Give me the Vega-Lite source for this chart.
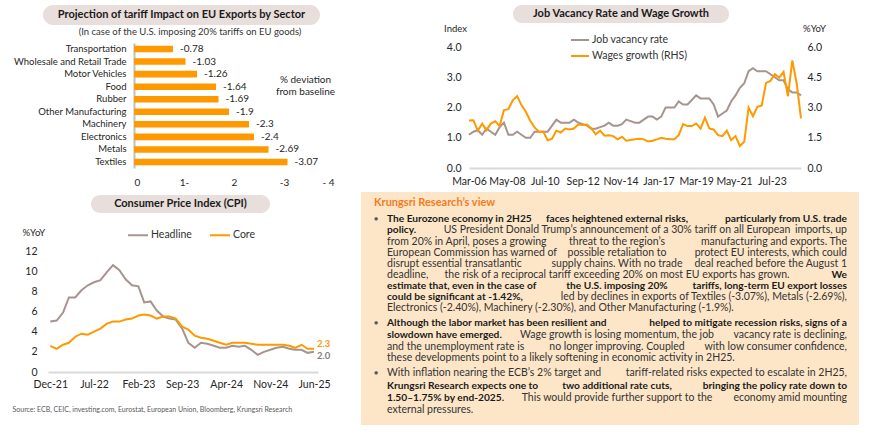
{
  "$schema": "https://vega.github.io/schema/vega-lite/v6.json",
  "background": "white",
  "padding": {"left": 12, "top": 5, "right": 0, "bottom": 0},
  "autosize": {"type": "pad"},
  "config": {
    "font": "Lato",
    "view": {"stroke": null},
    "axis": {"ticks": false, "grid": false, "domain": false, "labelColor": "#404040", "labelFontSize": 10, "labelFont": "Lato", "titleFont": "Lato"},
    "legend": {"labelFont": "Lato", "labelColor": "#333333", "labelFontSize": 10},
    "title": {"font": "Lato"},
    "text": {"font": "Lato"}
  },
  "datasets": {
    "sectors": [
      {"sector": "Transportation", "value": -0.78},
      {"sector": "Wholesale and Retail Trade", "value": -1.03},
      {"sector": "Motor Vehicles", "value": -1.26},
      {"sector": "Food", "value": -1.64},
      {"sector": "Rubber", "value": -1.69},
      {"sector": "Other Manufacturing", "value": -1.9},
      {"sector": "Machinery", "value": -2.3},
      {"sector": "Electronics", "value": -2.4},
      {"sector": "Metals", "value": -2.69},
      {"sector": "Textiles", "value": -3.07}
    ],
    "cpi": [
      {"month": "2021/12/01", "Headline": 5.0, "Core": 2.6},
      {"month": "2022/01/01", "Headline": 5.1, "Core": 2.3},
      {"month": "2022/02/01", "Headline": 5.9, "Core": 2.7},
      {"month": "2022/03/01", "Headline": 7.4, "Core": 2.9},
      {"month": "2022/04/01", "Headline": 7.4, "Core": 3.5},
      {"month": "2022/05/01", "Headline": 8.1, "Core": 3.8},
      {"month": "2022/06/01", "Headline": 8.6, "Core": 3.7},
      {"month": "2022/07/01", "Headline": 8.9, "Core": 4.0},
      {"month": "2022/08/01", "Headline": 9.1, "Core": 4.3},
      {"month": "2022/09/01", "Headline": 9.9, "Core": 4.8},
      {"month": "2022/10/01", "Headline": 10.6, "Core": 5.0},
      {"month": "2022/11/01", "Headline": 10.1, "Core": 5.0},
      {"month": "2022/12/01", "Headline": 9.2, "Core": 5.2},
      {"month": "2023/01/01", "Headline": 8.6, "Core": 5.3},
      {"month": "2023/02/01", "Headline": 8.5, "Core": 5.6},
      {"month": "2023/03/01", "Headline": 6.9, "Core": 5.7},
      {"month": "2023/04/01", "Headline": 7.0, "Core": 5.6},
      {"month": "2023/05/01", "Headline": 6.1, "Core": 5.3},
      {"month": "2023/06/01", "Headline": 5.5, "Core": 5.5},
      {"month": "2023/07/01", "Headline": 5.3, "Core": 5.5},
      {"month": "2023/08/01", "Headline": 5.2, "Core": 5.3},
      {"month": "2023/09/01", "Headline": 4.3, "Core": 4.5},
      {"month": "2023/10/01", "Headline": 2.9, "Core": 4.2},
      {"month": "2023/11/01", "Headline": 2.4, "Core": 3.6},
      {"month": "2023/12/01", "Headline": 2.9, "Core": 3.4},
      {"month": "2024/01/01", "Headline": 2.8, "Core": 3.3},
      {"month": "2024/02/01", "Headline": 2.6, "Core": 3.1},
      {"month": "2024/03/01", "Headline": 2.4, "Core": 2.9},
      {"month": "2024/04/01", "Headline": 2.4, "Core": 2.7},
      {"month": "2024/05/01", "Headline": 2.6, "Core": 2.9},
      {"month": "2024/06/01", "Headline": 2.5, "Core": 2.9},
      {"month": "2024/07/01", "Headline": 2.6, "Core": 2.9},
      {"month": "2024/08/01", "Headline": 2.2, "Core": 2.8},
      {"month": "2024/09/01", "Headline": 1.7, "Core": 2.7},
      {"month": "2024/10/01", "Headline": 2.0, "Core": 2.7},
      {"month": "2024/11/01", "Headline": 2.2, "Core": 2.7},
      {"month": "2024/12/01", "Headline": 2.4, "Core": 2.7},
      {"month": "2025/01/01", "Headline": 2.5, "Core": 2.7},
      {"month": "2025/02/01", "Headline": 2.3, "Core": 2.6},
      {"month": "2025/03/01", "Headline": 2.2, "Core": 2.4},
      {"month": "2025/04/01", "Headline": 2.2, "Core": 2.7},
      {"month": "2025/05/01", "Headline": 1.9, "Core": 2.3},
      {"month": "2025/06/01", "Headline": 2.0, "Core": 2.3}
    ],
    "labor": [
      {"quarter": "2006/03/01", "vacancy": 1.1, "wages": 2.35},
      {"quarter": "2006/06/01", "vacancy": 1.2, "wages": 2.37},
      {"quarter": "2006/09/01", "vacancy": 1.25, "wages": 1.85},
      {"quarter": "2006/12/01", "vacancy": 1.1, "wages": 2.2},
      {"quarter": "2007/03/01", "vacancy": 1.3, "wages": 1.88},
      {"quarter": "2007/06/01", "vacancy": 1.2, "wages": 2.2},
      {"quarter": "2007/09/01", "vacancy": 1.1, "wages": 2.32},
      {"quarter": "2007/12/01", "vacancy": 1.35, "wages": 2.08},
      {"quarter": "2008/03/01", "vacancy": 1.5, "wages": 2.87},
      {"quarter": "2008/06/01", "vacancy": 1.1, "wages": 2.92},
      {"quarter": "2008/09/01", "vacancy": 1.1, "wages": 3.36},
      {"quarter": "2008/12/01", "vacancy": 1.2, "wages": 3.56},
      {"quarter": "2009/03/01", "vacancy": 1.1, "wages": 3.12},
      {"quarter": "2009/06/01", "vacancy": 1.0, "wages": 2.79},
      {"quarter": "2009/09/01", "vacancy": 1.0, "wages": 2.34},
      {"quarter": "2009/12/01", "vacancy": 1.2, "wages": 2.01},
      {"quarter": "2010/03/01", "vacancy": 1.2, "wages": 1.8},
      {"quarter": "2010/06/01", "vacancy": 1.2, "wages": 1.8},
      {"quarter": "2010/09/01", "vacancy": 1.2, "wages": 1.38},
      {"quarter": "2010/12/01", "vacancy": 1.4, "wages": 1.45},
      {"quarter": "2011/03/01", "vacancy": 1.6, "wages": 1.85},
      {"quarter": "2011/06/01", "vacancy": 1.5, "wages": 1.76},
      {"quarter": "2011/09/01", "vacancy": 1.5, "wages": 1.96},
      {"quarter": "2011/12/01", "vacancy": 1.5, "wages": 1.91},
      {"quarter": "2012/03/01", "vacancy": 1.6, "wages": 1.96},
      {"quarter": "2012/06/01", "vacancy": 1.5, "wages": 2.16},
      {"quarter": "2012/09/01", "vacancy": 1.45, "wages": 2.13},
      {"quarter": "2012/12/01", "vacancy": 1.4, "wages": 2.16},
      {"quarter": "2013/03/01", "vacancy": 1.3, "wages": 1.96},
      {"quarter": "2013/06/01", "vacancy": 1.3, "wages": 1.67},
      {"quarter": "2013/09/01", "vacancy": 1.35, "wages": 1.85},
      {"quarter": "2013/12/01", "vacancy": 1.4, "wages": 1.6},
      {"quarter": "2014/03/01", "vacancy": 1.5, "wages": 1.62},
      {"quarter": "2014/06/01", "vacancy": 1.4, "wages": 1.58},
      {"quarter": "2014/09/01", "vacancy": 1.4, "wages": 1.42},
      {"quarter": "2014/12/01", "vacancy": 1.45, "wages": 1.55},
      {"quarter": "2015/03/01", "vacancy": 1.6, "wages": 1.35},
      {"quarter": "2015/06/01", "vacancy": 1.55, "wages": 1.39},
      {"quarter": "2015/09/01", "vacancy": 1.5, "wages": 1.43},
      {"quarter": "2015/12/01", "vacancy": 1.5, "wages": 1.45},
      {"quarter": "2016/03/01", "vacancy": 1.6, "wages": 1.42},
      {"quarter": "2016/06/01", "vacancy": 1.7, "wages": 1.32},
      {"quarter": "2016/09/01", "vacancy": 1.7, "wages": 1.35},
      {"quarter": "2016/12/01", "vacancy": 1.6, "wages": 1.42},
      {"quarter": "2017/03/01", "vacancy": 1.7, "wages": 1.5},
      {"quarter": "2017/06/01", "vacancy": 2.0, "wages": 1.45},
      {"quarter": "2017/09/01", "vacancy": 2.0, "wages": 1.42},
      {"quarter": "2017/12/01", "vacancy": 2.0, "wages": 1.43},
      {"quarter": "2018/03/01", "vacancy": 2.2, "wages": 1.63},
      {"quarter": "2018/06/01", "vacancy": 2.1, "wages": 2.18},
      {"quarter": "2018/09/01", "vacancy": 2.1, "wages": 2.08},
      {"quarter": "2018/12/01", "vacancy": 2.25, "wages": 2.08},
      {"quarter": "2019/03/01", "vacancy": 2.4, "wages": 2.21},
      {"quarter": "2019/06/01", "vacancy": 2.3, "wages": 1.95},
      {"quarter": "2019/09/01", "vacancy": 2.3, "wages": 2.5},
      {"quarter": "2019/12/01", "vacancy": 2.3, "wages": 1.96},
      {"quarter": "2020/03/01", "vacancy": 2.1, "wages": 1.91},
      {"quarter": "2020/06/01", "vacancy": 1.7, "wages": 1.63},
      {"quarter": "2020/09/01", "vacancy": 1.8, "wages": 1.58},
      {"quarter": "2020/12/01", "vacancy": 1.9, "wages": 1.85},
      {"quarter": "2021/03/01", "vacancy": 2.2, "wages": 1.38},
      {"quarter": "2021/06/01", "vacancy": 2.4, "wages": 1.58},
      {"quarter": "2021/09/01", "vacancy": 2.65, "wages": 1.09},
      {"quarter": "2021/12/01", "vacancy": 2.8, "wages": 1.3},
      {"quarter": "2022/03/01", "vacancy": 3.2, "wages": 3.0},
      {"quarter": "2022/06/01", "vacancy": 3.3, "wages": 2.57},
      {"quarter": "2022/09/01", "vacancy": 3.2, "wages": 3.03},
      {"quarter": "2022/12/01", "vacancy": 3.2, "wages": 3.1},
      {"quarter": "2023/03/01", "vacancy": 3.2, "wages": 4.22},
      {"quarter": "2023/06/01", "vacancy": 3.1, "wages": 4.32},
      {"quarter": "2023/09/01", "vacancy": 3.0, "wages": 4.65},
      {"quarter": "2023/12/01", "vacancy": 2.9, "wages": 4.48},
      {"quarter": "2024/03/01", "vacancy": 2.9, "wages": 4.76},
      {"quarter": "2024/06/01", "vacancy": 2.6, "wages": 3.56},
      {"quarter": "2024/09/01", "vacancy": 2.5, "wages": 5.34},
      {"quarter": "2024/12/01", "vacancy": 2.5, "wages": 4.19},
      {"quarter": "2025/03/01", "vacancy": 2.4, "wages": 2.46}
    ],
    "boxTitle": [
      {"line": 0, "side": "start", "text": "Krungsri Research’s view"}
    ],
    "bullets": [
      {"line": 1, "side": "start", "text": "●"},
      {"line": 10, "side": "start", "text": "●"},
      {"line": 14, "side": "start", "text": "●"}
    ],
    "key": [
      {"line": 1, "side": "start", "text": "The Eurozone economy in 2H25"},
      {"line": 1, "side": "mid", "text": "faces heightened external risks,"},
      {"line": 1, "side": "end", "text": "particularly from U.S. trade"},
      {"line": 2, "side": "start", "text": "policy."},
      {"line": 6, "side": "end", "text": "We"},
      {"line": 7, "side": "start", "text": "estimate that, even in the case of"},
      {"line": 7, "side": "mid", "text": "the U.S. imposing 20%"},
      {"line": 7, "side": "end", "text": "tariffs, long-term EU export losses"},
      {"line": 8, "side": "start", "text": "could be significant at -1.42%,"},
      {"line": 10, "side": "start", "text": "Although the labor market has been resilient and"},
      {"line": 10, "side": "end", "text": "helped to mitigate recession risks, signs of a"},
      {"line": 11, "side": "start", "text": "slowdown have emerged."},
      {"line": 15, "side": "start", "text": "Krungsri Research expects one to"},
      {"line": 15, "side": "mid", "text": "two additional rate cuts,"},
      {"line": 15, "side": "end", "text": "bringing the policy rate down to"},
      {"line": 16, "side": "start", "text": "1.50–1.75% by end-2025."}
    ],
    "body": [
      {"line": 2, "side": "mid", "text": "US President Donald Trump’s announcement of a 30% tariff on all European"},
      {"line": 2, "side": "end", "text": "imports, up"},
      {"line": 3, "side": "start", "text": "from 20% in April, poses a growing"},
      {"line": 3, "side": "mid", "text": "threat to the region’s"},
      {"line": 3, "side": "end", "text": "manufacturing and exports. The"},
      {"line": 4, "side": "start", "text": "European Commission has warned of"},
      {"line": 4, "side": "mid", "text": "possible retaliation to"},
      {"line": 4, "side": "end", "text": "protect EU interests, which could"},
      {"line": 5, "side": "start", "text": "disrupt essential transatlantic"},
      {"line": 5, "side": "mid", "text": "supply chains. With no trade"},
      {"line": 5, "side": "end", "text": "deal reached before the August 1"},
      {"line": 6, "side": "start", "text": "deadline,"},
      {"line": 6, "side": "mid", "text": "the risk of a reciprocal tariff exceeding 20% on most EU exports has grown."},
      {"line": 8, "side": "end", "text": "led by declines in exports of Textiles (-3.07%), Metals (-2.69%),"},
      {"line": 9, "side": "start", "text": "Electronics (-2.40%), Machinery (-2.30%), and Other Manufacturing (-1.9%)."},
      {"line": 11, "side": "mid", "text": "Wage growth is losing momentum, the job"},
      {"line": 11, "side": "end", "text": "vacancy rate is declining,"},
      {"line": 12, "side": "start", "text": "and the unemployment rate is"},
      {"line": 12, "side": "mid", "text": "no longer improving. Coupled"},
      {"line": 12, "side": "end", "text": "with low consumer confidence,"},
      {"line": 13, "side": "start", "text": "these developments point to a likely softening in economic activity in 2H25."},
      {"line": 14, "side": "start", "text": "With inflation nearing the ECB’s 2% target and"},
      {"line": 14, "side": "end", "text": "tariff-related risks expected to escalate in 2H25,"},
      {"line": 16, "side": "mid", "text": "This would provide further support to the"},
      {"line": 16, "side": "end", "text": "economy amid mounting"},
      {"line": 17, "side": "start", "text": "external pressures."}
    ]
  },
  "spacing": 26,
  "resolve": {"scale": {"color": "independent"}, "legend": {"color": "independent"}},
  "hconcat": [
    {
      "bounds": "flush",
      "spacing": 0,
      "resolve": {"scale": {"color": "independent"}, "legend": {"color": "independent"}},
      "vconcat": [
        {
          "width": 277, "height": 38,
          "data": {"values": [{"t": "Projection of tariff Impact on EU Exports by Sector"}]},
          "encoding": {"y": {"field": "t", "type": "nominal", "scale": {"range": [0, 20], "paddingInner": 0, "paddingOuter": 0}, "axis": null}},
          "layer": [
            {"mark": {"type": "rect", "cornerRadius": 10, "color": "#e8dedb"}},
            {"mark": {"type": "text", "fontWeight": "bold", "fontSize": 11, "color": "#1a1a1a"}, "encoding": {"text": {"field": "t"}}}
          ]
        },
        {
          "width": 291, "height": 125,
          "title": {"text": "(In case of the U.S. imposing 20% tariffs on EU goods)", "fontSize": 9.5, "fontWeight": "normal", "color": "#333333", "frame": "group", "anchor": "middle", "dx": 1.5, "offset": 7},
          "data": {"name": "sectors"},
          "encoding": {
            "y": {"field": "sector", "type": "nominal", "sort": null, "scale": {"paddingInner": 0.48, "paddingOuter": 0.22},
              "axis": {"title": null, "offset": -91, "domain": true, "domainColor": "#bfbfbf", "domainWidth": 2, "labelPadding": 8, "labelFontSize": 9.5, "labelColor": "#262626"}},
            "x": {"field": "value", "type": "quantitative", "scale": {"domain": [0, -4], "nice": false, "range": [91, 291]},
              "axis": {"values": [0, -1, -2, -3, -4], "labelExpr": "datum.value == 0 ? '0' : datum.value == -1 ? '1-' : datum.value == -2 ? '2' : datum.value == -3 ? '-3' : '- 4'", "labelPadding": 9, "labelFontSize": 10, "labelColor": "#262626",
                "title": ["% deviation", "from baseline"], "titleFontSize": 10, "titleFontWeight": "normal", "titleColor": "#262626", "titleAlign": "center", "titleBaseline": "middle", "titleLineHeight": 12, "titleX": 262, "titleY": -89}}
          },
          "layer": [
            {"mark": {"type": "bar", "color": "#ff9900"}},
            {"mark": {"type": "text", "align": "left", "dx": 7, "fontSize": 10, "color": "#262626"}, "encoding": {"text": {"field": "value", "type": "nominal"}}}
          ]
        },
        {
          "width": 227, "height": 83,
          "data": {"values": [{"t": "Consumer Price Index (CPI)"}]},
          "encoding": {
            "x": {"field": "t", "type": "nominal", "scale": {"range": [48, 227], "paddingInner": 0, "paddingOuter": 0}, "axis": null},
            "y": {"field": "t", "type": "nominal", "scale": {"range": [27, 45], "paddingInner": 0, "paddingOuter": 0}, "axis": null}
          },
          "layer": [
            {"mark": {"type": "rect", "cornerRadius": 9, "color": "#e8dedb"}},
            {"mark": {"type": "text", "fontWeight": "bold", "fontSize": 11, "color": "#1a1a1a"}, "encoding": {"text": {"field": "t"}}}
          ]
        },
        {
          "width": 275, "height": 121,
          "data": {"name": "cpi"},
          "transform": [{"fold": ["Headline", "Core"], "as": ["series", "yoy"]}],
          "encoding": {
            "x": {"field": "month", "type": "temporal",
              "scale": {"domain": [{"year": 2021, "month": 11, "date": 20}, {"year": 2025, "month": 6, "date": 20}], "range": [5, 275]},
              "axis": {"values": [{"year": 2021, "month": 12, "date": 1}, {"year": 2022, "month": 7, "date": 1}, {"year": 2023, "month": 2, "date": 1}, {"year": 2023, "month": 9, "date": 1}, {"year": 2024, "month": 4, "date": 1}, {"year": 2024, "month": 11, "date": 1}, {"year": 2025, "month": 6, "date": 1}],
                "format": "%b-%y", "labelOverlap": false, "labelFlush": false, "domain": true, "domainColor": "#d9d9d9", "domainWidth": 2, "labelPadding": 7, "labelFontSize": 10.5, "labelColor": "#262626",
                "title": "Source: ECB, CEIC, investing.com, Eurostat, European Union, Bloomberg, Krungsri Research",
                "titleFontSize": 7, "titleFontWeight": "normal", "titleColor": "#595959", "titleAnchor": "start", "titleAlign": "left", "titleBaseline": "middle", "titleX": -31, "titleY": 37}},
            "y": {"field": "yoy", "type": "quantitative", "scale": {"domain": [0, 12], "nice": false},
              "axis": {"offset": -5, "values": [0, 2, 4, 6, 8, 10, 12], "labelPadding": 11, "labelFontSize": 10.5, "labelColor": "#262626",
                "title": "%YoY", "titleAngle": 0, "titleAlign": "left", "titleBaseline": "middle", "titleX": -26, "titleY": -19, "titleFontSize": 9.5, "titleFontWeight": "normal", "titleColor": "#262626"}},
            "color": {"field": "series", "type": "nominal", "scale": {"domain": ["Headline", "Core"], "range": ["#a8948f", "#ff9900"]},
              "legend": {"title": null, "orient": "none", "legendX": 84, "legendY": -27, "direction": "horizontal", "symbolType": "stroke", "symbolSize": 400, "symbolStrokeWidth": 2, "labelFontSize": 10.5, "labelOffset": 2, "columnPadding": 14}}
          },
          "layer": [
            {"mark": {"type": "line", "strokeWidth": 2}},
            {"transform": [{"filter": "datum.series == 'Core' && time(datum.month) == time(datetime(2025, 5, 1))"}],
             "mark": {"type": "text", "align": "left", "dx": 3, "dy": -5, "fontSize": 9.5, "fontWeight": "bold"},
             "encoding": {"text": {"field": "yoy", "type": "quantitative", "format": ".1f"}}},
            {"transform": [{"filter": "datum.series == 'Headline' && time(datum.month) == time(datetime(2025, 5, 1))"}],
             "mark": {"type": "text", "align": "left", "dx": 3, "dy": 4, "fontSize": 9.5, "fontWeight": "bold"},
             "encoding": {"text": {"field": "yoy", "type": "quantitative", "format": ".1f"}, "color": {"value": "#7f7f7f"}}}
          ]
        }
      ]
    },
    {
      "bounds": "flush",
      "spacing": 24,
      "resolve": {"scale": {"color": "independent"}, "legend": {"color": "independent"}},
      "vconcat": [
        {
          "width": 368, "height": 18,
          "data": {"values": [{"t": "Job Vacancy Rate and Wage Growth"}]},
          "encoding": {"x": {"field": "t", "type": "nominal", "scale": {"range": [152, 368], "paddingInner": 0, "paddingOuter": 0}, "axis": null}},
          "layer": [
            {"mark": {"type": "rect", "cornerRadius": 9, "color": "#e8dedb"}},
            {"mark": {"type": "text", "fontWeight": "bold", "fontSize": 11, "color": "#1a1a1a"}, "encoding": {"text": {"field": "t"}}}
          ]
        },
        {
          "width": 440, "height": 121,
          "data": {"name": "labor"},
          "encoding": {
            "x": {"field": "quarter", "type": "temporal",
              "scale": {"domain": [{"year": 2006, "month": 3, "date": 1}, {"year": 2025, "month": 3, "date": 1}], "range": [108, 440]},
              "axis": {"values": [{"year": 2006, "month": 3, "date": 1}, {"year": 2008, "month": 5, "date": 1}, {"year": 2010, "month": 7, "date": 1}, {"year": 2012, "month": 9, "date": 1}, {"year": 2014, "month": 11, "date": 1}, {"year": 2017, "month": 1, "date": 1}, {"year": 2019, "month": 3, "date": 1}, {"year": 2021, "month": 5, "date": 1}, {"year": 2023, "month": 7, "date": 1}],
                "format": "%b-%y", "labelOverlap": false, "labelFlush": false, "title": null, "domain": true, "domainColor": "#d9d9d9", "domainWidth": 2, "labelPadding": 8, "labelFontSize": 10.5, "labelColor": "#262626"}}
          },
          "layer": [
            {"mark": {"type": "line", "strokeWidth": 2},
             "encoding": {
               "y": {"field": "vacancy", "type": "quantitative", "scale": {"domain": [0, 4], "nice": false},
                 "axis": {"orient": "left", "offset": -108, "values": [0, 1, 2, 3, 4], "format": ".1f", "labelPadding": 8, "labelFontSize": 10.5, "labelColor": "#262626",
                   "title": "Index", "titleAngle": 0, "titleAlign": "center", "titleBaseline": "middle", "titleX": -14, "titleY": -19, "titleFontSize": 9.5, "titleFontWeight": "normal", "titleColor": "#262626"}},
               "color": {"datum": "Job vacancy rate", "type": "nominal", "scale": {"domain": ["Job vacancy rate", "Wages growth (RHS)"], "range": ["#a8948f", "#ff9900"]},
                 "legend": {"title": null, "orient": "none", "legendX": 209, "legendY": -17, "direction": "vertical", "symbolType": "stroke", "symbolSize": 324, "symbolStrokeWidth": 2, "labelFontSize": 10.5, "labelOffset": 2, "rowPadding": -3}}
             }},
            {"mark": {"type": "line", "strokeWidth": 2},
             "encoding": {
               "y": {"field": "wages", "type": "quantitative", "scale": {"domain": [0, 6], "nice": false},
                 "axis": {"orient": "right", "values": [0, 1.5, 3, 4.5, 6], "format": ".1f", "labelPadding": 6, "labelFontSize": 10.5, "labelColor": "#262626",
                   "title": "%YoY", "titleAngle": 0, "titleAlign": "center", "titleBaseline": "middle", "titleX": 13, "titleY": -19, "titleFontSize": 9.5, "titleFontWeight": "normal", "titleColor": "#262626"}},
               "color": {"datum": "Wages growth (RHS)", "type": "nominal"}
             }}
          ],
          "resolve": {"scale": {"y": "independent"}}
        },
        {
          "width": 498, "height": 233,
          "view": {"fill": "#fde6c8", "stroke": null},
          "encoding": {
            "y": {"field": "line", "type": "quantitative", "scale": {"domain": [0, 1, 9, 10, 13, 14, 17], "range": [10.7, 27.3, 116.3, 131, 166.3, 181.3, 218], "nice": false, "zero": false}, "axis": null},
            "x": {"field": "side", "type": "nominal", "scale": {"type": "point", "domain": ["start", "mid", "end"], "range": [26, 486], "padding": 0}, "axis": null},
            "text": {"field": "text"}
          },
          "layer": [
            {"data": {"name": "boxTitle"}, "mark": {"type": "text", "align": "left", "dx": -13, "fontSize": 11, "fontWeight": "bold", "color": "#f47b20", "baseline": "middle"}},
            {"data": {"name": "bullets"}, "mark": {"type": "text", "align": "center", "dx": -11, "fontSize": 7, "color": "#595959", "baseline": "middle"}},
            {"data": {"name": "key"}, "transform": [{"filter": "datum.side == 'start'"}], "mark": {"type": "text", "align": "left", "fontSize": 10.2, "fontWeight": "bold", "color": "#1a1a1a", "baseline": "middle"}},
            {"data": {"name": "key"}, "transform": [{"filter": "datum.side == 'mid'"}], "mark": {"type": "text", "align": "center", "fontSize": 10.2, "fontWeight": "bold", "color": "#1a1a1a", "baseline": "middle"}},
            {"data": {"name": "key"}, "transform": [{"filter": "datum.side == 'end'"}], "mark": {"type": "text", "align": "right", "fontSize": 10.2, "fontWeight": "bold", "color": "#1a1a1a", "baseline": "middle"}},
            {"data": {"name": "body"}, "transform": [{"filter": "datum.side == 'start'"}], "mark": {"type": "text", "align": "left", "fontSize": 10.5, "color": "#333333", "baseline": "middle"}},
            {"data": {"name": "body"}, "transform": [{"filter": "datum.side == 'mid'"}], "mark": {"type": "text", "align": "center", "fontSize": 10.5, "color": "#333333", "baseline": "middle"}},
            {"data": {"name": "body"}, "transform": [{"filter": "datum.side == 'end'"}], "mark": {"type": "text", "align": "right", "fontSize": 10.5, "color": "#333333", "baseline": "middle"}}
          ]
        }
      ]
    }
  ]
}
